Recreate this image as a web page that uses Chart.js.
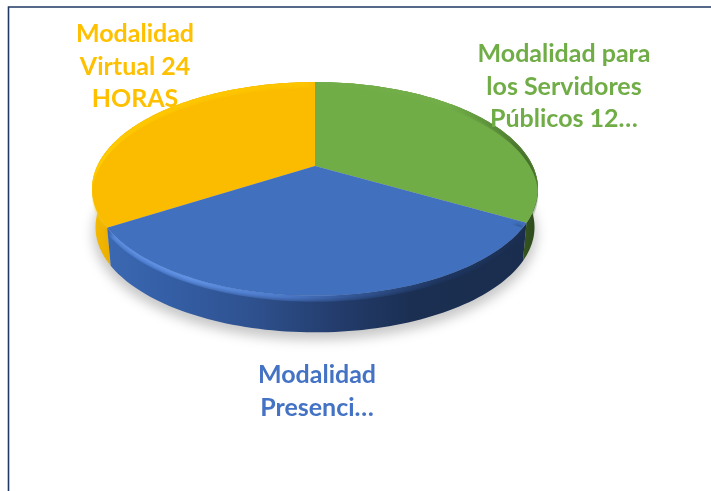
<!DOCTYPE html>
<html><head><meta charset="utf-8">
<style>html,body{margin:0;padding:0;background:#fff}canvas{display:block}</style>
<script src="https://cdn.jsdelivr.net/npm/chart.js@4"></script></head>
<body><canvas id="c" width="711" height="491"></canvas>
<script>
const categories = ["Modalidad para los Servidores Públicos 12…", "Modalidad Presenci…", "Modalidad Virtual 24 HORAS"];
const values = [33.3, 32.7, 34];
const sliceColors = ["#70ad47", "#4070be", "#fbbc00"];
const labelColors = ["#70ad47", "#4472c4", "#ffc000"];
const labelLines = [["Modalidad para","los Servidores","Públicos 12…"],["Modalidad","Presenci…"],["Modalidad","Virtual 24","HORAS"]];
const labelX = [564, 317, 135];
const labelY = [54, 375, 34];
const LINE = 32.5;
const K = 0.215, AX = 1.312, BY = 0.614, DEPTH = 39;

function proj(el, a, d, t) {
  const u = Math.cos(a)*t, v = Math.sin(a)*t, s = 1/(1-K*v), r = el.outerRadius;
  return [el.x + r*AX*u*s, el.y + r*BY*v*s + d];
}
function path(ctx, pts){ pts.forEach((p,i)=> i?ctx.lineTo(p[0],p[1]):ctx.moveTo(p[0],p[1])); }
function rim(el, a0, a1, d, t){ const n=80, o=[]; for(let i=0;i<=n;i++) o.push(proj(el,a0+(a1-a0)*i/n,d,t)); return o; }
function hgrad(ctx, stops){ const g=ctx.createLinearGradient(92,0,538,0); stops.forEach(s=>g.addColorStop(s[0],s[1])); return g; }

const sideStops = [
  [[0,"#6c9a3f"],[0.8,"#5a8a38"],[0.93,"#3c5f24"],[1,"#2d4a1b"]],
  [[0,"#3d6bb5"],[0.15,"#3560a8"],[0.35,"#2f5290"],[0.55,"#233c6c"],[0.72,"#1b2f52"],[1,"#1a2d4e"]],
  [[0,"#f6bb00"],[0.05,"#e8aa00"],[1,"#e0a000"]]
];
const rimStops = [
  [[0,"#70ad47"],[0.8,"#74af4a"],[0.92,"#4d7c30"],[1,"#2f4c1c"]],
  [[0,"#5f90e6"],[0.22,"#6496ea"],[0.42,"#507fd2"],[0.58,"#355a9c"],[0.78,"#1f3864"],[1,"#1b2f52"]],
  [[0,"#ffd400"],[0.06,"#ffcc00"],[1,"#fcc000"]]
];

const pie3d = {
  id:"pie3d",
  beforeDraw(chart){
    const c=chart.ctx; c.save();
    c.fillStyle="#fff"; c.fillRect(0,0,chart.width,chart.height);
    c.strokeStyle="#1f3864"; c.lineWidth=1.6;
    c.beginPath(); c.moveTo(8.5,chart.height); c.lineTo(8.5,7); c.lineTo(chart.width,7); c.stroke();
    c.restore();
  },
  beforeDatasetsDraw(chart){
    const c=chart.ctx, els=chart.getDatasetMeta(0).data, e0=els[0];
    c.save();
    c.save(); c.filter="blur(6px)"; c.fillStyle="rgba(0,0,0,0.22)";
    c.beginPath(); path(c,rim(e0,0,Math.PI*2,DEPTH+6,0.995)); c.closePath(); c.fill(); c.restore();
    [2,0,1].forEach(i=>{
      const el=els[i], a0=el.startAngle, a1=el.endAngle;
      c.fillStyle=hgrad(c,sideStops[i]);
      c.beginPath();
      path(c,rim(el,a0,a1,0,1).concat(rim(el,a0,a1,DEPTH,0.985).reverse()));
      c.closePath(); c.fill();
    });
    [0,2,1].forEach(i=>{
      const el=els[i], a0=el.startAngle, a1=el.endAngle;
      c.fillStyle=sliceColors[i];
      c.beginPath(); path(c,[proj(el,0,0,0)].concat(rim(el,a0,a1,0,1))); c.closePath(); c.fill();
      c.save();
      c.beginPath(); path(c,[proj(el,0,0,0)].concat(rim(el,a0,a1,0,1)).concat(rim(el,a1,a0,6,1))); c.closePath(); c.clip();
      c.filter="blur(2.5px)";
      c.strokeStyle=hgrad(c,rimStops[i]); c.lineWidth=i===1?9:6;
      c.beginPath(); path(c,rim(el,a0+0.03,a1-0.03,i===1?3:0,0.985)); c.stroke();
      c.restore();
    });
    c.restore();
    return false;
  },
  afterDraw(chart){
    const c=chart.ctx; c.save();
    c.font='bold 25px Lato, "Open Sans", sans-serif';
    c.textAlign="center"; c.textBaseline="middle";
    labelLines.forEach((lines,i)=>{
      c.fillStyle=labelColors[i];
      lines.forEach((t,j)=>c.fillText(t,labelX[i],labelY[i]+j*LINE));
    });
    c.restore();
  }
};

new Chart(document.getElementById("c"),{
  type:"pie",
  data:{labels:categories,datasets:[{data:values,backgroundColor:sliceColors,borderWidth:0}]},
  options:{responsive:false,animation:false,
    layout:{padding:{left:0,right:81,top:0,bottom:159}},
    plugins:{legend:{display:false},tooltip:{enabled:false}}},
  plugins:[pie3d]
});
</script></body></html>
